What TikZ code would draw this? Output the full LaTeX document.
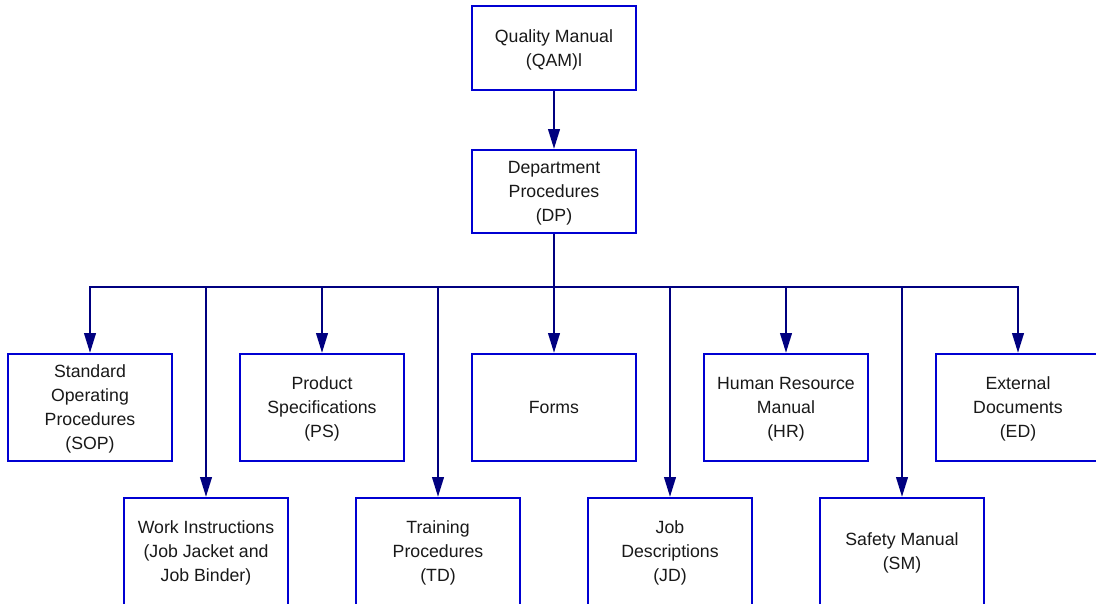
\documentclass[tikz,border=0pt]{standalone}
\usepackage{fontspec}
\setmainfont{Liberation Sans}
\usetikzlibrary{arrows.meta}
\definecolor{boxblue}{RGB}{0,0,210}
\definecolor{linknavy}{RGB}{0,0,128}
\tikzset{
  docbox/.style={draw=boxblue, line width=2pt, fill=white, minimum width=164pt,
    minimum height=107pt, inner sep=0pt, align=center, text depth=0pt,
    font=\fontsize{17.7}{24}\selectfont, text=black!90},
  link/.style={draw=linknavy, line width=2.6pt},
  arr/.style={link, -{Triangle[length=20pt, width=11.5pt]}}
}
\begin{document}
\begin{tikzpicture}[x=1pt, y=-1pt]
  \useasboundingbox (0,0) rectangle (1096,603);
  \clip (0,0) rectangle (1096,603);
  \fill[white] (0,0) rectangle (1096,603);
  % top of the tree
  \node[docbox, minimum height=84pt] (qam) at (554,48) {Quality Manual\\(QAM)l};
  \node[docbox, minimum height=83pt] (dp) at (554,191.5) {Department\\Procedures\\(DP)};
  \coordinate (bus) at (554,287);
  % upper row
  \node[docbox] (sop) at (90,407.5) {Standard\\Operating\\Procedures\\(SOP)};
  \node[docbox] (ps) at (322,407.5) {Product\\Specifications\\(PS)};
  \node[docbox] (forms) at (554,407.5) {Forms};
  \node[docbox] (hr) at (786,407.5) {Human Resource\\Manual\\(HR)};
  \node[docbox] (ed) at (1018,407.5) {External\\Documents\\(ED)};
  % lower row
  \node[docbox] (wi) at (206,551.5) {Work Instructions\\(Job Jacket and\\Job Binder)};
  \node[docbox] (td) at (438,551.5) {Training\\Procedures\\(TD)};
  \node[docbox] (jd) at (670,551.5) {Job\\Descriptions\\(JD)};
  \node[docbox] (sm) at (902,551.5) {Safety Manual\\(SM)};
  % connectors
  \draw[arr] (qam.south) -- (dp.north);
  \draw[link] (dp.south) -- (bus);
  \draw[link, line cap=rect] (bus -| sop.north) -- (bus -| ed.north);
  \foreach \child in {sop, wi, ps, td, forms, jd, hr, sm, ed}
    \draw[arr] (bus -| \child.north) -- (\child.north);
\end{tikzpicture}
\end{document}
